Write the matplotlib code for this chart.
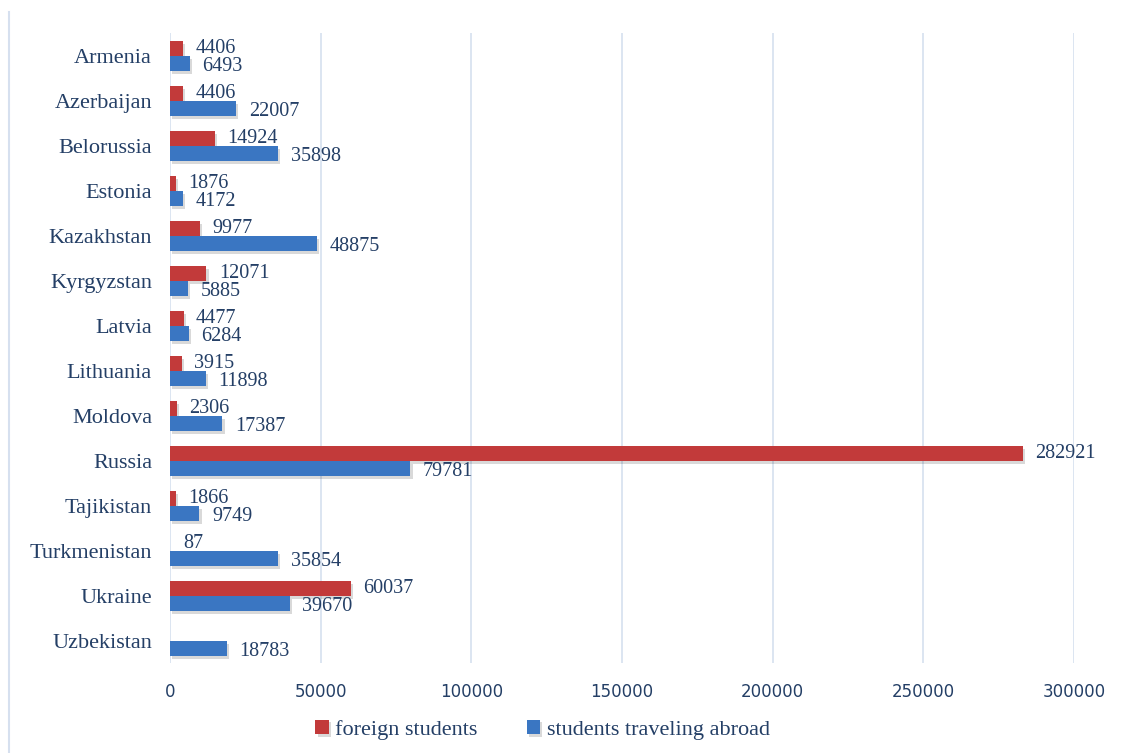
"""
Foreign students vs students traveling abroad, post-Soviet countries.
Horizontal grouped bar chart, values labelled at the bar ends.
"""

import numpy as np
import matplotlib
matplotlib.use("Agg")
import matplotlib.pyplot as plt
import matplotlib.patheffects as pe
from matplotlib.lines import Line2D

countries = ["Armenia", "Azerbaijan", "Belorussia", "Estonia", "Kazakhstan",
             "Kyrgyzstan", "Latvia", "Lithuania", "Moldova", "Russia",
             "Tajikistan", "Turkmenistan", "Ukraine", "Uzbekistan"]
foreign_students = [4406, 4406, 14924, 1876, 9977, 12071, 4477, 3915, 2306,
                    282921, 1866, 87, 60037, None]
traveling_abroad = [6493, 22007, 35898, 4172, 48875, 5885, 6284, 11898, 17387,
                    79781, 9749, 35854, 39670, 18783]
x_ticks = [0, 50000, 100000, 150000, 200000, 250000, 300000]

RED = "#C23A3A"
BLUE = "#3A76C2"
TEXT = "#243F66"
GRID = "#D6E0EF"
SERIF = ["Liberation Serif", "DejaVu Serif"]

fig = plt.figure(figsize=(11.21, 7.53), dpi=100)
ax = fig.add_axes([0.1517, 0.1189, 0.8064, 0.8367])

y = np.arange(len(countries))
h = 0.33
shadow = [pe.withSimplePatchShadow(offset=(1.5, -2), shadow_rgbFace="#000000", alpha=0.15)]

red_vals = [v if v is not None else 0 for v in foreign_students]
bars_red = ax.barh(y - h / 2, red_vals, height=h, color=RED, label="foreign students",
                   path_effects=shadow, zorder=3)
bars_blue = ax.barh(y + h / 2, traveling_abroad, height=h, color=BLUE,
                    label="students traveling abroad", path_effects=shadow, zorder=3)

# value labels just right of each bar end (they crowd a bit, as in the original)
for yi, v in zip(y, foreign_students):
    if v is None:
        continue
    ax.annotate(str(v), (v, yi - h / 2), xytext=(9, 0), textcoords="offset points",
                ha="left", va="center", fontsize=14.5, color=TEXT, family=SERIF,
                annotation_clip=False, zorder=4)
for yi, v in zip(y, traveling_abroad):
    ax.annotate(str(v), (v, yi + h / 2), xytext=(9, -2.5), textcoords="offset points",
                ha="left", va="center", fontsize=14.5, color=TEXT, family=SERIF,
                annotation_clip=False, zorder=4)

ax.set_xlim(0, 300000)
ax.set_ylim(len(countries) - 0.5, -0.5)
ax.set_xticks(x_ticks)
ax.set_xticklabels([str(t) for t in x_ticks], fontsize=12, color=TEXT, family="DejaVu Sans")
ax.set_yticks(y)
ax.set_yticklabels(countries, fontsize=16, color=TEXT, family=SERIF)
ax.tick_params(axis="both", length=0)
ax.tick_params(axis="x", pad=14)
ax.tick_params(axis="y", pad=13)

ax.grid(axis="x", color=GRID, linewidth=1.2, zorder=0)
ax.set_axisbelow(True)
for s in ax.spines.values():
    s.set_visible(False)

leg = fig.legend(handles=[bars_red, bars_blue], loc="center", bbox_to_anchor=(0.484, 0.031),
                 ncol=2, frameon=False, prop={"family": SERIF, "size": 16},
                 handlelength=0.6, handleheight=0.6, handletextpad=0.3, columnspacing=2.2)
for t in leg.get_texts():
    t.set_color(TEXT)

# thin chart border on the left
fig.add_artist(Line2D([0.008, 0.008], [0, 0.984], color=GRID, linewidth=1.5,
                      transform=fig.transFigure))

fig.savefig("out.png", dpi=100, facecolor="white")
